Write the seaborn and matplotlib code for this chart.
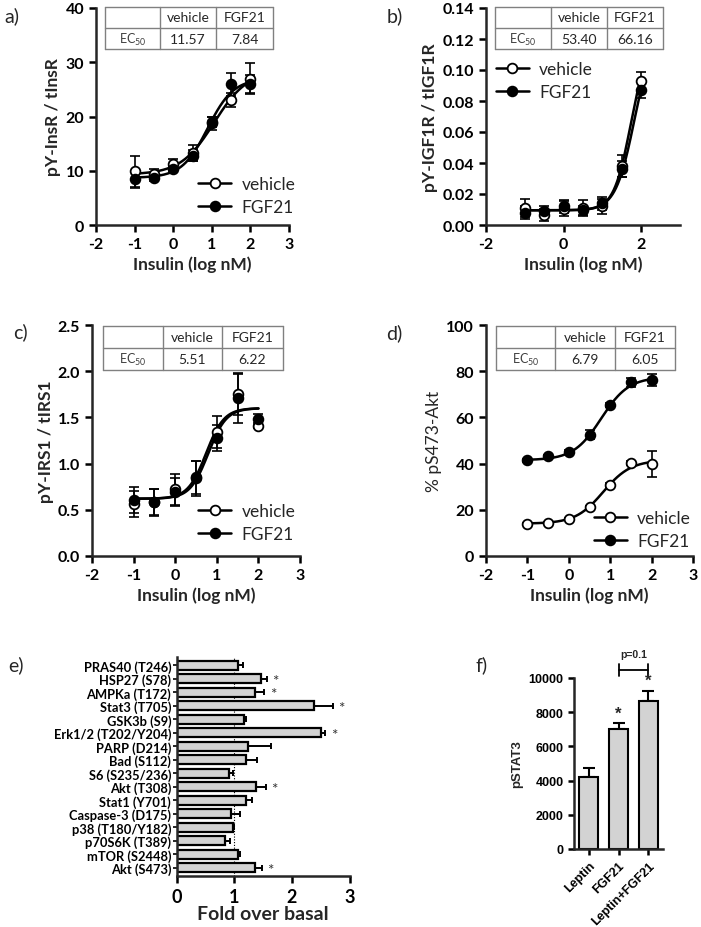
import numpy as np
import pandas as pd
import matplotlib.pyplot as plt
import seaborn as sns
from matplotlib.lines import Line2D

sns.set_style('ticks')
plt.rcParams['font.family'] = ['Lato', 'DejaVu Sans']
plt.rcParams['axes.unicode_minus'] = False
plt.rcParams['mathtext.fontset'] = 'custom'
plt.rcParams['mathtext.rm'] = 'Lato'

W, H = 701, 928

# insulin doses (log nM)
dose = [-1, -0.5, 0, 0.5, 1, 1.5, 2]

# a) pY-InsR / tInsR
a_veh = [9.9, 9.4, 11.2, 13.3, 18.8, 23.0, 27.0]
a_veh_err = [2.9, 1.0, 1.0, 1.5, 1.2, 1.3, 2.8]
a_fgf = [8.4, 8.6, 10.3, 12.8, 19.0, 25.9, 26.0]
a_fgf_err = [1.5, 0.5, 0.5, 1.0, 1.0, 2.1, 1.7]
a_ec50 = [11.57, 7.84]
a_fit = [[9.3, 28.5, 1.0], [8.7, 27.0, 1.3]]   # bottom, top, hill

# b) pY-IGF1R / tIGF1R
b_veh = [0.011, 0.0065, 0.0105, 0.011, 0.012, 0.038, 0.093]
b_veh_err = [0.006, 0.004, 0.005, 0.005, 0.005, 0.007, 0.006]
b_fgf = [0.008, 0.009, 0.012, 0.0095, 0.014, 0.036, 0.087]
b_fgf_err = [0.004, 0.003, 0.004, 0.003, 0.004, 0.005, 0.005]
b_ec50 = [53.40, 66.16]
b_fit = [[0.0095, 0.12, 2.0], [0.0095, 0.125, 1.8]]

# c) pY-IRS1 / tIRS1
c_veh = [0.56, 0.58, 0.72, 0.84, 1.34, 1.75, 1.41]
c_veh_err = [0.14, 0.15, 0.17, 0.19, 0.17, 0.22, 0.03]
c_fgf = [0.61, 0.58, 0.69, 0.85, 1.28, 1.71, 1.48]
c_fgf_err = [0.14, 0.14, 0.15, 0.18, 0.14, 0.27, 0.06]
c_ec50 = [5.51, 6.22]
c_fit = [[0.62, 1.6, 2.0], [0.62, 1.6, 2.0]]

# d) % pS473-Akt
d_veh = [14.0, 14.3, 16.0, 21.0, 30.7, 40.3, 39.8]
d_veh_err = [0.5, 0.5, 0.6, 0.8, 1.0, 0.8, 5.5]
d_fgf = [41.5, 43.3, 45.0, 52.5, 65.4, 75.2, 76.2]
d_fgf_err = [0.6, 0.6, 0.8, 2.0, 1.0, 2.0, 2.5]
d_ec50 = [6.79, 6.05]
d_fit = [[14.0, 41.5, 1.3], [41.5, 77.5, 1.3]]

# e) fold over basal
e_labels = ['PRAS40 (T246)', 'HSP27 (S78)', 'AMPKa (T172)', 'Stat3 (T705)', 'GSK3b (S9)',
            'Erk1/2 (T202/Y204)', 'PARP (D214)', 'Bad (S112)', 'S6 (S235/236)', 'Akt (T308)',
            'Stat1 (Y701)', 'Caspase-3 (D175)', 'p38 (T180/Y182)', 'p70S6K (T389)',
            'mTOR (S2448)', 'Akt (S473)']
e_vals = [1.06, 1.46, 1.36, 2.38, 1.16, 2.51, 1.24, 1.20, 0.90, 1.38,
          1.20, 0.95, 0.97, 0.84, 1.07, 1.36]
e_err = [0.09, 0.11, 0.16, 0.33, 0.04, 0.07, 0.39, 0.19, 0.08, 0.17,
         0.10, 0.15, 0.03, 0.09, 0.03, 0.12]
e_star = [0, 1, 1, 1, 0, 1, 0, 0, 0, 1, 0, 0, 0, 0, 0, 1]

# f) pSTAT3
f_groups = ['Leptin', 'FGF21', 'Leptin+FGF21']
f_vals = [4230, 7040, 8630]
f_err = [480, 330, 630]
f_star = [0, 1, 1]


def px_box(l, t, r, b):
    return [l / W, 1 - b / H, (r - l) / W, (b - t) / H]


def style_axes(ax, lw=1.8):
    sns.despine(ax=ax)
    for s in ['left', 'bottom']:
        ax.spines[s].set_linewidth(lw)
    ax.tick_params(width=lw, length=5, direction='out', colors='black')


fig = plt.figure(figsize=(W / 100, H / 100), dpi=100)


def dose_panel(box, veh, veh_err, fgf, fgf_err, ec50, fit, ylim, ystep, yfmt, ylabel,
               xticks, table_box, col_x, leg_pos, ylab_weight='bold'):
    ax = fig.add_axes(px_box(*box))
    xs = np.linspace(-1, 2, 200)
    parts = []
    for name, (bot, top, hill), ec in zip(['vehicle', 'FGF21'], fit, ec50):
        ys = bot + (top - bot) / (1 + 10 ** (hill * (np.log10(ec) - xs)))
        parts.append(pd.DataFrame({'x': xs, 'y': ys, 'grp': name}))
    curve = pd.concat(parts)
    ax.errorbar(dose, veh, yerr=veh_err, fmt='none', ecolor='black', elinewidth=1.2,
                capsize=3.5, capthick=1.2, zorder=2)
    ax.errorbar(dose, fgf, yerr=fgf_err, fmt='none', ecolor='black', elinewidth=1.2,
                capsize=3.5, capthick=1.2, zorder=2)
    sns.lineplot(data=curve, x='x', y='y', units='grp', estimator=None, color='black',
                 lw=1.8, ax=ax, legend=False, zorder=3)
    ax.plot(dose, veh, 'o', mfc='white', mec='black', ms=7, mew=1.3, zorder=4)
    ax.plot(dose, fgf, 'o', mfc='black', mec='black', ms=7, mew=1.3, zorder=5)
    ax.set_xlim(-2, 3)
    ax.set_ylim(*ylim)
    ax.set_xticks(xticks)
    ax.set_yticks(np.arange(ylim[0], ylim[1] + ystep / 2, ystep))
    ax.set_xticklabels([f'{t:g}' for t in xticks], fontsize=11.5, fontweight='bold')
    ax.set_yticklabels([yfmt.format(t) for t in ax.get_yticks()], fontsize=11.5, fontweight='bold')
    ax.set_xlabel('Insulin (log nM)', fontsize=12.5, fontweight='bold', labelpad=3)
    ax.set_ylabel(ylabel, fontsize=12.5, fontweight=ylab_weight, labelpad=3)
    style_axes(ax)
    handles = [Line2D([], [], color='black', lw=1.8, marker='o', mfc='white', mec='black', ms=7, mew=1.3),
               Line2D([], [], color='black', lw=1.8, marker='o', mfc='black', mec='black', ms=7, mew=1.3)]
    ax.legend(handles, ['vehicle', 'FGF21'], loc='upper left', bbox_to_anchor=leg_pos, frameon=False,
              fontsize=12.5, handlelength=1.9, handletextpad=0.6, borderpad=0, borderaxespad=0,
              labelspacing=0.4)

    # EC50 table
    l, t, r, b = table_box
    mid = (t + b) / 2
    col = '#808080'
    tx = lambda v: v / W
    ty = lambda v: 1 - v / H
    for yy in [t, mid, b]:
        fig.add_artist(Line2D([tx(l), tx(r)], [ty(yy), ty(yy)], color=col, lw=1.0))
    for xx in [l] + col_x + [r]:
        fig.add_artist(Line2D([tx(xx), tx(xx)], [ty(t), ty(b)], color=col, lw=1.0))
    edges = [l] + col_x + [r]
    centers = [(edges[i] + edges[i + 1]) / 2 for i in range(3)]
    fig.text(tx(centers[1]), ty((t + mid) / 2), 'vehicle', ha='center', va='center', fontsize=10)
    fig.text(tx(centers[2]), ty((t + mid) / 2), 'FGF21', ha='center', va='center', fontsize=10)
    fig.text(tx(centers[0]), ty((mid + b) / 2), 'EC$_{50}$', ha='center', va='center', fontsize=9,
             color='#404040')
    fig.text(tx(centers[1]), ty((mid + b) / 2), f'{ec50[0]:.2f}', ha='center', va='center', fontsize=10)
    fig.text(tx(centers[2]), ty((mid + b) / 2), f'{ec50[1]:.2f}', ha='center', va='center', fontsize=10)
    return ax


dose_panel((96, 9, 289, 226), a_veh, a_veh_err, a_fgf, a_fgf_err, a_ec50, a_fit,
           (0, 40), 10, '{:.0f}', 'pY-InsR / tInsR', [-2, -1, 0, 1, 2, 3],
           (105, 8, 273, 50), [160, 216], (0.53, 0.225))
dose_panel((486, 9, 680, 226), b_veh, b_veh_err, b_fgf, b_fgf_err, b_ec50, b_fit,
           (0, 0.14), 0.02, '{:.2f}', 'pY-IGF1R / tIGF1R', [-2, 0, 2],
           (495, 8, 663, 50), [551, 607], (0.05, 0.755))
dose_panel((92, 326, 300, 557), c_veh, c_veh_err, c_fgf, c_fgf_err, c_ec50, c_fit,
           (0, 2.5), 0.5, '{:.1f}', 'pY-IRS1 / tIRS1', [-2, -1, 0, 1, 2, 3],
           (103, 327, 283, 371), [163, 222], (0.51, 0.228))
dose_panel((486, 326, 693, 557), d_veh, d_veh_err, d_fgf, d_fgf_err, d_ec50, d_fit,
           (0, 100), 20, '{:.0f}', '% pS473-Akt', [-2, -1, 0, 1, 2, 3],
           (496, 327, 675, 371), [555, 615], (0.52, 0.198), ylab_weight='normal')

# e) horizontal bars
axe = fig.add_axes(px_box(176.7, 658, 349.5, 877))
e_df = pd.DataFrame({'target': e_labels, 'fold': e_vals})
sns.barplot(data=e_df, x='fold', y='target', orient='h', color='#d3d3d3', saturation=1,
            edgecolor='black', linewidth=1.6, width=0.68, ax=axe, zorder=2)
pos = np.arange(len(e_labels))
axe.errorbar(e_vals, pos, xerr=[np.zeros(len(e_vals)), e_err], fmt='none', ecolor='black',
             elinewidth=1.4, capsize=2.5, capthick=1.4, zorder=1)
axe.axvline(1, color='black', ls=(0, (1, 1.5)), lw=0.8, zorder=0)
for p, v, er, s in zip(pos, e_vals, e_err, e_star):
    if s:
        axe.text(v + er + 0.15, p + 0.15, '*', ha='center', va='center', fontsize=11, color='#333333')
axe.set_xlim(0, 3)
axe.set_ylim(15.6, -0.6)
axe.set_xticks([0, 1, 2, 3])
axe.set_xticklabels(['0', '1', '2', '3'], fontsize=13, fontweight='bold')
axe.set_yticks(pos)
axe.set_yticklabels(e_labels, fontsize=9.3, fontweight='bold')
axe.set_xlabel('Fold over basal', fontsize=14, fontweight='bold', labelpad=0)
axe.set_ylabel('')
style_axes(axe)
axe.tick_params(axis='y', length=3, width=1.2, pad=1)

# f) pSTAT3 bars
axf = fig.add_axes(px_box(574, 679, 663, 850))
f_df = pd.DataFrame({'group': f_groups, 'pstat3': f_vals})
sns.barplot(data=f_df, x='group', y='pstat3', color='#d3d3d3', saturation=1,
            edgecolor='black', linewidth=1.5, width=0.65, ax=axf, zorder=2)
axf.errorbar(range(3), f_vals, yerr=[np.zeros(3), f_err], fmt='none', ecolor='black',
             elinewidth=1.5, capsize=4, capthick=1.5, zorder=1)
arial = ['Liberation Sans', 'DejaVu Sans']
for i, (v, er, s) in enumerate(zip(f_vals, f_err, f_star)):
    if s:
        axf.text(i, v + er + 150, '*', ha='center', va='bottom', fontsize=12, fontweight='bold',
                 family=arial)
axf.plot([1, 2], [10490, 10490], color='black', lw=1.3, clip_on=False)
axf.plot([1, 1], [10140, 10840], color='black', lw=1.3, clip_on=False)
axf.plot([2, 2], [10140, 10840], color='black', lw=1.3, clip_on=False)
axf.text(1.5, 11100, 'p=0.1', ha='center', va='bottom', fontsize=7.5, fontweight='bold', family=arial)
axf.set_xlim(-0.5, 2.5)
axf.set_ylim(0, 10000)
axf.set_yticks(np.arange(0, 10001, 2000))
axf.set_yticklabels([f'{t:.0f}' for t in np.arange(0, 10001, 2000)], fontsize=9,
                    fontweight='bold', family=arial)
axf.set_xticks(range(3))
axf.set_xticklabels(f_groups, rotation=45, ha='right', rotation_mode='anchor', fontsize=9,
                    fontweight='bold', family=arial)
axf.set_xlabel('')
axf.set_ylabel('pSTAT3', fontsize=9.5, fontweight='bold', family=arial, labelpad=4)
style_axes(axf)
axf.tick_params(length=4)

# panel letters
for lab, x, y in [('a)', 4, 16), ('b)', 387, 16), ('c)', 13, 332), ('d)', 386, 333),
                  ('e)', 8, 665), ('f)', 475, 665)]:
    fig.text(x / W, 1 - y / H, lab, fontsize=14, ha='left', va='center')

fig.savefig('out.png', dpi=100)
